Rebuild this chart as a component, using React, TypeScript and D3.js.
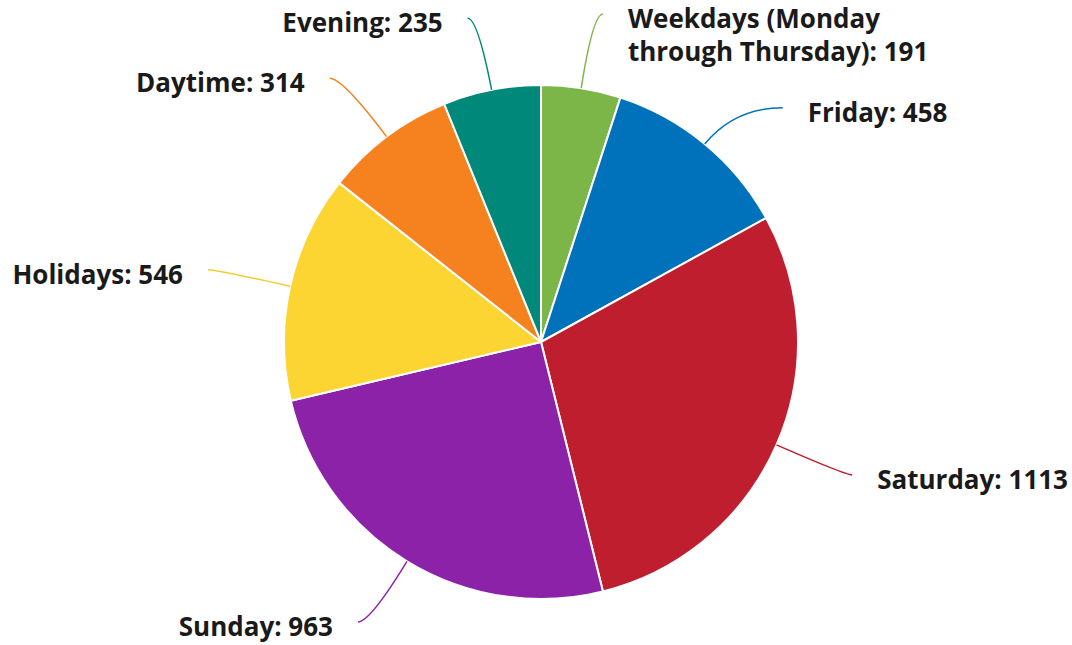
import React from "react";
import * as d3 from "d3";

const categories = ["Weekdays (Monday through Thursday)", "Friday", "Saturday", "Sunday", "Holidays", "Daytime", "Evening"];
const labelLines = [["Weekdays (Monday", "through Thursday): 191"], ["Friday: 458"], ["Saturday: 1113"], ["Sunday: 963"], ["Holidays: 546"], ["Daytime: 314"], ["Evening: 235"]];
const values = [191, 458, 1113, 963, 546, 314, 235];
const colors = ["#7cb648", "#0072bc", "#be1e2d", "#8b22a8", "#fcd533", "#f5821f", "#00897a"];
// layout tweaks: connector knee radius and horizontal tail length
const kneeRadius = [332, 304, 332, 328, 333, 330, 330];
const tailLength = [10, 48, 7, 12, 8, 13, 10];

const W = 1072, H = 645;
const cx = 541, cy = 342, R = 257;

export default function App() {
  const pie = d3.pie<number>().sort(null).value((d) => d)(values);
  const arc = d3.arc<d3.PieArcDatum<number>>().innerRadius(0).outerRadius(R);
  return (
    <svg width={W} height={H} style={{ position: "absolute", left: 0, top: 0, background: "#fff" }}
      fontFamily="'Open Sans', sans-serif">
      <g transform={`translate(${cx},${cy})`}>
        {pie.map((p, i) => (
          <path key={categories[i]} d={arc(p) || ""} fill={colors[i]} stroke="#fff" strokeWidth={2} strokeLinejoin="round" />
        ))}
        {pie.map((p, i) => {
          const a = (p.startAngle + p.endAngle) / 2;
          const sx = Math.sin(a), sy = -Math.cos(a);
          const x0 = sx * R, y0 = sy * R;
          const k = kneeRadius[i];
          const x1 = sx * k, y1 = sy * k;
          const side = sx >= 0 ? 1 : -1;
          const x2 = x1 + side * tailLength[i], y2 = y1;
          const tx = x2 + side * 25;
          return (
            <g key={"l" + i}>
              <path d={`M${x0},${y0}Q${x1},${y1} ${x2},${y2}`} fill="none" stroke={colors[i] === "#fcd533" ? "#f2cc2e" : colors[i]} strokeWidth={1.5} />
              <text x={tx} y={y2 + 14} textAnchor={side > 0 ? "start" : "end"} fontSize={26} fontWeight={700} fill="#1a1a1a">
                {labelLines[i].map((ln, j) => (
                  <tspan key={j} x={tx} dy={j === 0 ? 0 : 33}>{ln}</tspan>
                ))}
              </text>
            </g>
          );
        })}
      </g>
    </svg>
  );
}
